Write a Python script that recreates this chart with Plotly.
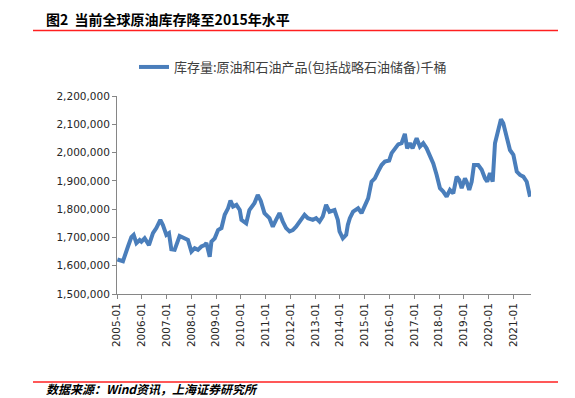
import plotly.graph_objects as go

dates = [
    "2005-01-07", "2005-02-09", "2005-03-30", "2005-06-12", "2005-08-01", "2005-09-04",
    "2005-10-14", "2005-12-01", "2005-12-27", "2006-02-13", "2006-04-17", "2006-06-15",
    "2006-08-04", "2006-10-02", "2006-11-09", "2006-12-30", "2007-02-06", "2007-03-13",
    "2007-05-01", "2007-07-13", "2007-09-25", "2007-11-13", "2008-01-03", "2008-02-20",
    "2008-04-09", "2008-05-29", "2008-07-17", "2008-08-11", "2008-09-29", "2008-10-24",
    "2008-12-12", "2009-01-30", "2009-03-21", "2009-05-08", "2009-06-26", "2009-08-01",
    "2009-09-08", "2009-10-28", "2009-12-16", "2010-01-10", "2010-03-21", "2010-05-07",
    "2010-07-20", "2010-09-07", "2010-10-21", "2010-12-15", "2011-02-27", "2011-04-17",
    "2011-06-04", "2011-07-25", "2011-09-12", "2011-10-30", "2011-12-20", "2012-02-06",
    "2012-03-25", "2012-05-15", "2012-07-28", "2012-09-15", "2012-11-27", "2013-01-15",
    "2013-03-06", "2013-04-23", "2013-06-11", "2013-07-31", "2013-10-13", "2013-12-01",
    "2013-12-26", "2014-02-13", "2014-04-03", "2014-04-27", "2014-05-27", "2014-07-14",
    "2014-09-26", "2014-11-15", "2015-01-03", "2015-02-21", "2015-04-12", "2015-05-31",
    "2015-07-18", "2015-09-07", "2015-10-25", "2015-12-28", "2016-02-02", "2016-03-21",
    "2016-05-09", "2016-06-28", "2016-08-15", "2016-09-18", "2016-10-28", "2016-12-07",
    "2017-02-05", "2017-03-25", "2017-05-13", "2017-07-02", "2017-08-20", "2017-10-08",
    "2017-11-27", "2018-01-15", "2018-03-04", "2018-04-23", "2018-06-11", "2018-07-30",
    "2018-09-18", "2018-10-26", "2018-12-01", "2019-01-18", "2019-02-12", "2019-03-22",
    "2019-04-27", "2019-05-31", "2019-08-02", "2019-09-22", "2019-11-09", "2019-12-13",
    "2020-01-22", "2020-03-02", "2020-04-05", "2020-05-24", "2020-07-02", "2020-08-05",
    "2020-09-24", "2020-11-12", "2021-01-01", "2021-02-20", "2021-04-09", "2021-05-28",
    "2021-07-17", "2021-09-04",
]

stocks = [
    1622000, 1620000, 1616000, 1668000, 1701000, 1709000,
    1680000, 1691000, 1685000, 1697000, 1673000, 1715000,
    1733000, 1762000, 1744000, 1709000, 1715000, 1658000,
    1656000, 1705000, 1697000, 1691000, 1650000, 1662000,
    1656000, 1668000, 1673000, 1680000, 1632000, 1685000,
    1697000, 1726000, 1733000, 1780000, 1803000, 1830000,
    1809000, 1815000, 1797000, 1762000, 1750000, 1797000,
    1821000, 1850000, 1830000, 1786000, 1768000, 1738000,
    1762000, 1786000, 1756000, 1733000, 1721000, 1726000,
    1738000, 1756000, 1780000, 1768000, 1762000, 1768000,
    1756000, 1774000, 1815000, 1791000, 1797000, 1762000,
    1721000, 1697000, 1709000, 1744000, 1768000, 1791000,
    1803000, 1786000, 1815000, 1838000, 1897000, 1909000,
    1933000, 1956000, 1968000, 1972000, 1998000, 2015000,
    2029000, 2033000, 2066000, 2015000, 2033000, 2015000,
    2051000, 2021000, 2033000, 2015000, 1985000, 1962000,
    1921000, 1874000, 1862000, 1844000, 1868000, 1856000,
    1915000, 1903000, 1874000, 1909000, 1897000, 1868000,
    1897000, 1956000, 1956000, 1939000, 1909000, 1897000,
    1927000, 1897000, 2033000, 2086000, 2118000, 2104000,
    2062000, 2009000, 1992000, 1933000, 1921000, 1915000,
    1897000, 1844000,
]

series_name = "库存量:原油和石油产品(包括战略石油储备)千桶"
title_text = "图2  当前全球原油库存降至2015年水平"
source_text = "数据来源：Wind资讯，上海证券研究所"
y_ticks = [1500000, 1600000, 1700000, 1800000, 1900000, 2000000, 2100000, 2200000]

W, H = 575, 398
OFF = 8  # page body margin offset


def px(x):
    return (x - OFF) / W


def py(y):
    return 1 - (y - OFF) / H


axis_grey = "#868686"
text_col = "#262626"

fig = go.Figure()
fig.add_trace(go.Scatter(
    x=dates, y=stocks, mode="lines", name=series_name,
    line=dict(color="#4A7EBB", width=4),
    showlegend=True,
))

fig.update_layout(
    width=W, height=H,
    margin=dict(l=0, r=0, t=0, b=0, autoexpand=False),
    paper_bgcolor="white", plot_bgcolor="white",
    font=dict(family="DejaVu Sans", size=10.5, color=text_col),
    showlegend=True,
    legend=dict(
        x=px(134), y=py(67), xanchor="left", yanchor="middle",
        orientation="h", bgcolor="rgba(0,0,0,0)",
        font=dict(family="Noto Sans CJK SC", size=13, color="#404040"),
        itemwidth=30,
    ),
    xaxis=dict(
        domain=[px(117), px(531)],
        type="date",
        range=["2005-01-01", "2021-09-18"],
        tick0="2005-01-01", dtick="M12", tickformat="%Y-%m",
        tickangle=-90,
        ticks="outside", ticklen=4, tickcolor=axis_grey,
        showline=True, linecolor=axis_grey, linewidth=1,
        showgrid=False, zeroline=False,
        tickfont=dict(family="DejaVu Sans", size=10.5, color=text_col),
    ),
    yaxis=dict(
        domain=[py(294), py(96)],
        range=[1500000, 2200000],
        tickvals=y_ticks, tickformat=",d",
        ticks="outside", ticklen=4, tickcolor=axis_grey,
        showline=True, linecolor=axis_grey, linewidth=1,
        showgrid=False, zeroline=False,
        tickfont=dict(family="DejaVu Sans", size=10.5, color=text_col),
    ),
    shapes=[
        dict(type="line", xref="paper", yref="paper",
             x0=px(33), x1=px(558), y0=py(30.5), y1=py(30.5),
             line=dict(color="#FF2020", width=1.5)),
        dict(type="line", xref="paper", yref="paper",
             x0=px(33), x1=px(558), y0=py(382), y1=py(382),
             line=dict(color="#FF2020", width=1.5)),
    ],
    annotations=[
        dict(text="<b>" + title_text + "</b>", xref="paper", yref="paper",
             x=px(44), y=py(19), xanchor="left", yanchor="middle",
             showarrow=False,
             font=dict(family="Noto Sans CJK SC", size=14, color="#000000")),
        dict(text="<b><i>" + source_text + "</i></b>", xref="paper", yref="paper",
             x=px(44), y=py(399), xanchor="left", yanchor="bottom",
             showarrow=False,
             font=dict(family="Noto Sans CJK SC", size=12, color="#000000")),
    ],
)

fig.write_html("out.html")
